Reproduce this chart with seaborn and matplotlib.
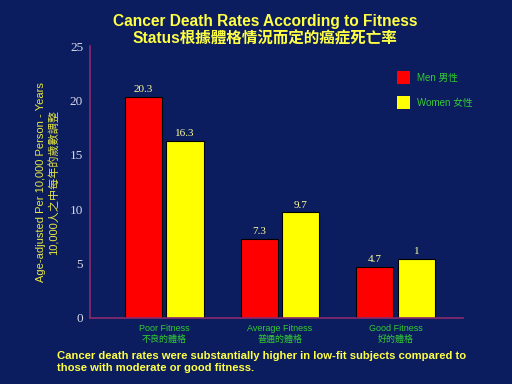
import matplotlib
matplotlib.use("Agg")
import matplotlib.pyplot as plt
import matplotlib.patches as mpatches
import pandas as pd
import seaborn as sns

# data
categories = ["Poor Fitness\n不良的體格", "Average Fitness\n普通的體格", "Good Fitness\n好的體格"]
men_rates = [20.3, 7.3, 4.7]
women_rates = [16.3, 9.7, 5.4]
men_labels = ["20.3", "7.3", "4.7"]
women_labels = ["16.3", "9.7", "1"]   # slide prints "1" on the last bar
series_names = ["Men 男性", "Women 女性"]
y_ticks = [0, 5, 10, 15, 20, 25]

BG = "#0b1d5e"
AXIS = "#8a2a6e"
YELLOW = "#ffff44"
GREEN = "#33cc33"
CJK = ["Liberation Sans", "Noto Sans CJK TC", "DejaVu Sans"]

df = pd.DataFrame({
    "category": categories * 2,
    "rate": men_rates + women_rates,
    "sex": [series_names[0]] * 3 + [series_names[1]] * 3,
})

sns.set_style("dark")
plt.rcParams["font.family"] = CJK

fig = plt.figure(figsize=(5.12, 3.84), dpi=100, facecolor=BG)
ax = fig.add_axes([0.176, 0.172, 0.728, 0.708], facecolor=BG)

sns.barplot(
    data=df, x="category", y="rate", hue="sex",
    palette={series_names[0]: "#ff0000", series_names[1]: "#ffff00"},
    saturation=1, width=0.72, gap=0.11, edgecolor="black", linewidth=0.8,
    legend=False, ax=ax,
)

for cont, labels in zip(ax.containers, [men_labels, women_labels]):
    ax.bar_label(cont, labels=labels, padding=2, color="#ffff99",
                 fontsize=8, family="Liberation Serif")

ax.set_xlim(-0.64, 2.58)
ax.set_ylim(0, 25)
ax.set_yticks(y_ticks)
ax.set_yticklabels([str(t) for t in y_ticks], family="Liberation Serif",
                   fontsize=9.5, color="#d8d8e8")
ax.tick_params(axis="y", direction="in", length=7, color=AXIS, width=1, pad=5)
ax.tick_params(axis="x", length=0, colors=GREEN, labelsize=6.5, pad=4)
for lbl in ax.get_xticklabels():
    lbl.set_color(GREEN)
    lbl.set_linespacing(1.3)
ax.set_xticks([0.5, 1.5], minor=True)
ax.tick_params(axis="x", which="minor", direction="in", length=10, color=AXIS, width=1)
ax.grid(False)
ax.set_xlabel("")
ax.set_ylabel("Age-adjusted Per 10,000 Person - Years\n10,000人之中每年的歲數調整",
              color="#e8e840", fontsize=8, labelpad=7, linespacing=1.3)

for side in ["top", "right"]:
    ax.spines[side].set_visible(False)
for side in ["left", "bottom"]:
    ax.spines[side].set_visible(True)
    ax.spines[side].set_color(AXIS)
    ax.spines[side].set_linewidth(1.2)

handles = [mpatches.Patch(facecolor=c, edgecolor="none", label=n)
           for c, n in zip(["#ff0000", "#ffff00"], series_names)]
leg = ax.legend(handles=handles, loc="upper left", bbox_to_anchor=(0.8, 0.94),
                frameon=False, fontsize=7, handlelength=1.3, handleheight=1.6,
                labelspacing=1.3, handletextpad=0.8)
for t in leg.get_texts():
    t.set_color(GREEN)

fig.text(0.518, 0.945, "Cancer Death Rates According to Fitness",
         ha="center", va="center", color=YELLOW, fontsize=11.2, fontweight="bold")
fig.text(0.518, 0.898, "Status根據體格情況而定的癌症死亡率",
         ha="center", va="center", color=YELLOW, fontsize=11.2, fontweight="bold")
fig.text(0.111, 0.058,
         "Cancer death rates were substantially higher in low-fit subjects compared to\n"
         "those with moderate or good fitness.",
         ha="left", va="center", color=YELLOW, fontsize=8.1, fontweight="bold",
         linespacing=1.3)

fig.savefig("out.png", dpi=100, facecolor=BG)
